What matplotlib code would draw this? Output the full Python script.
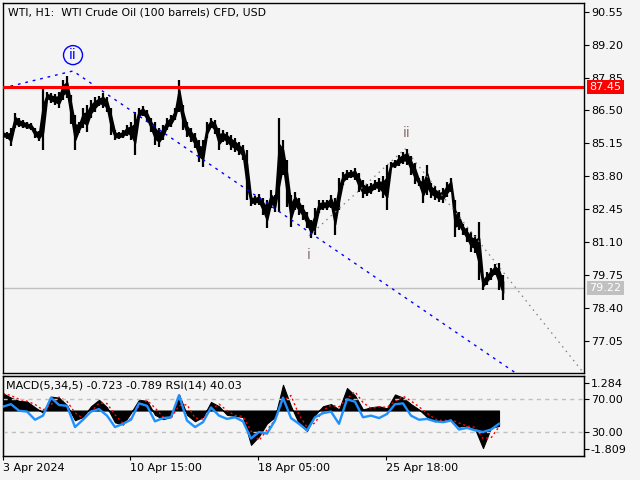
import numpy as np
import matplotlib
matplotlib.use('Agg')
import matplotlib.pyplot as plt
import matplotlib.transforms as mtransforms
import pandas as pd

# ---------------- data ----------------
# price highs / lows, one entry per 4 hourly bars
high = [85.66, 85.62, 85.78, 86.40, 86.19, 86.11, 86.03, 85.99, 85.78, 85.66,
        87.42, 87.26, 87.22, 87.18, 87.26, 87.75, 87.91, 87.14, 86.32, 86.03,
        86.60, 86.73, 86.93, 87.05, 87.09, 87.22, 87.05, 86.60, 85.70, 85.62,
        85.70, 85.91, 86.03, 86.44, 86.60, 86.68, 86.52, 86.19, 86.03, 85.78,
        85.91, 86.19, 86.32, 86.60, 87.75, 86.73, 86.03, 85.78, 85.58, 85.29,
        85.29, 86.03, 86.19, 86.11, 85.78, 85.70, 85.62, 85.50, 85.37, 85.21,
        85.09, 84.88, 83.04, 83.00, 83.08, 82.91, 82.83, 83.24, 83.04, 86.19,
        85.29, 84.47, 83.04, 83.16, 82.91, 82.63, 82.34, 82.01, 82.50, 82.83,
        82.83, 82.83, 83.04, 82.91, 83.73, 83.98, 84.06, 84.06, 84.14, 83.94,
        83.65, 83.49, 83.53, 83.65, 83.73, 83.81, 84.27, 84.39, 84.47, 84.68,
        84.80, 84.92, 84.63, 84.35, 83.73, 83.81, 84.27, 83.53, 83.40, 83.24,
        83.32, 83.57, 83.73, 82.83, 82.34, 81.85, 81.68, 81.52, 81.40, 81.93,
        79.67, 79.88, 80.04, 80.21, 80.25, 79.76]
low = [85.37, 85.33, 85.04, 85.78, 85.82, 85.78, 85.74, 85.70, 85.37, 85.25,
       84.88, 86.93, 86.81, 86.73, 86.60, 86.93, 87.01, 85.95, 84.88, 85.58,
       85.78, 85.62, 86.19, 86.44, 86.68, 86.60, 86.44, 85.50, 85.29, 85.33,
       85.37, 85.46, 85.29, 84.68, 86.19, 86.27, 86.03, 85.62, 85.09, 85.00,
       85.29, 85.70, 85.82, 86.11, 86.44, 85.70, 85.41, 85.21, 84.96, 84.39,
       84.18, 85.37, 85.78, 85.54, 84.88, 85.21, 85.09, 84.88, 84.80, 84.68,
       84.47, 82.83, 82.58, 82.63, 82.63, 82.22, 81.68, 82.50, 82.34, 82.34,
       83.86, 82.54, 81.72, 82.42, 82.22, 82.01, 81.68, 81.27, 81.40, 82.30,
       82.42, 82.42, 82.50, 81.40, 82.42, 83.45, 83.65, 83.73, 83.65, 83.16,
       82.91, 83.00, 83.08, 83.24, 83.16, 82.91, 82.42, 84.14, 84.14, 84.22,
       84.31, 84.27, 83.86, 83.49, 83.40, 82.71, 83.04, 82.91, 82.83, 82.75,
       82.71, 82.95, 83.16, 81.31, 81.60, 81.40, 81.11, 80.70, 80.66, 79.55,
       79.14, 79.35, 79.55, 79.76, 79.14, 78.73]
price_step = 4  # hourly bars per entry

# MACD main (histogram) and RSI(14), one entry per 8 hourly bars
macd = [0.80, 0.60, 0.45, 0.42, 0.15, -0.10, 0.65, 0.60, 0.25, -0.45,
        -0.30, 0.20, 0.50, 0.15, -0.55, -0.65, -0.10, 0.50, 0.45, -0.20,
        -0.40, -0.30, 0.75, -0.20, -0.50, -0.30, 0.40, 0.20, -0.20, -0.25,
        -0.30, -1.60, -1.20, -0.60, -0.30, 1.20, 0.20, -0.60, -0.95, -0.20,
        0.20, 0.30, 0.05, 1.05, 0.70, 0.05, 0.15, 0.20, 0.10, 0.75,
        0.60, 0.30, 0.05, -0.30, -0.50, -0.45, -0.40, -0.75, -0.70, -0.85,
        -1.75, -0.80, -0.72]
rsi = [61, 64, 56, 55, 45, 50, 72, 63, 62, 36,
       45, 55, 58, 50, 36, 40, 45, 65, 62, 43,
       47, 48, 75, 44, 36, 42, 60, 50, 46, 48,
       43, 22, 30, 28, 44, 72, 47, 40, 32, 48,
       53, 55, 40, 70, 67, 48, 50, 47, 52, 64,
       65, 50, 45, 46, 43, 42, 44, 33, 35, 32,
       30, 33, 40.03]
ind_step = 8

red_level = 87.45
last_price = 79.22
price_ticks = [90.55, 89.20, 87.85, 86.50, 85.15, 83.80, 82.45, 81.10, 79.75, 78.40, 77.05]
macd_ticks = [1.284, -1.809]
rsi_levels = [70, 30]
time_ticks = [0, 127, 255, 383]
time_labels = ['3 Apr 2024', '10 Apr 15:00', '18 Apr 05:00', '25 Apr 18:00']

# Elliott wave lines (bar index, price)
wave_major_x = [0, 70, 512]
wave_major_y = [87.42, 88.12, 75.74]
wave_minor_x = [306, 402, 581]
wave_minor_y = [81.35, 84.92, 75.70]

# ---------------- figure ----------------
BG = '#f4f4f4'
W, H = 640, 480
fig = plt.figure(figsize=(6.4, 4.8), dpi=100, facecolor=BG)

def rect(x0, y0, x1, y1):
    return [x0 / W, 1 - y1 / H, (x1 - x0) / W, (y1 - y0) / H]

ax = fig.add_axes(rect(2.5, 2.5, 584, 373))
axm = fig.add_axes(rect(2.5, 376, 584, 456))
for a in (ax, axm):
    a.set_facecolor(BG)
    for s in a.spines.values():
        s.set_color('black')
        s.set_linewidth(1.0)

XL = (-0.5, 581)
pidx = np.arange(len(high)) * price_step
hi = np.array(high)
lo = np.array(low)
mid = (hi + lo) / 2
ax.vlines(pidx, lo, hi, color='black', lw=1.6, zorder=3)
ax.fill_between(pidx, mid - (hi - lo) * 0.22, mid + (hi - lo) * 0.22,
                color='black', lw=1.2, edgecolor='black', zorder=3)
ax.axhline(red_level, color='#ff0000', lw=2.2, zorder=4)
ax.axhline(last_price, color='#c0c0c0', lw=1.0, zorder=2)
ax.plot(wave_major_x, wave_major_y, color='#0000ff', lw=1.0, dashes=(2, 3.5), zorder=3)
ax.plot(wave_minor_x, wave_minor_y, color='#808080', lw=0.9, dashes=(1.2, 3.5), zorder=3)

ax.set_xlim(*XL)
ax.set_ylim(75.72, 90.93)
ax.set_xticks([])
ax.yaxis.tick_right()
ax.set_yticks(price_ticks)
ax.set_yticklabels(['%.2f' % v for v in price_ticks])
ax.tick_params(axis='y', direction='out', length=3.5, width=0.8, pad=1.5, labelsize=8)

# wave labels
ax.text(70, 88.77, 'ii', color='#0000ff', ha='center', va='center', fontsize=10,
        bbox=dict(boxstyle='circle,pad=0.18', fc='none', ec='#0000ff', lw=1.0), zorder=5)
ax.text(403.7, 85.57, 'ii', color='#8c6e6e', ha='center', va='center', fontsize=10, zorder=5)
ax.text(305.7, 80.57, 'i', color='#8c6e6e', ha='center', va='center', fontsize=10, zorder=5)

# price labels on right
tr = mtransforms.blended_transform_factory(ax.transAxes, ax.transData)
ax.text(1.0095, red_level, '%.2f' % red_level, transform=tr, color='white', fontsize=8,
        ha='left', va='center', clip_on=False, zorder=10,
        bbox=dict(fc='#ff0000', ec='none', pad=1.6))
ax.text(1.0095, last_price, '%.2f' % last_price, transform=tr, color='white', fontsize=8,
        ha='left', va='center', clip_on=False, zorder=10,
        bbox=dict(fc='#c0c0c0', ec='none', pad=1.6))

fig.text(8 / W, 1 - 12.5 / H, 'WTI, H1:  WTI Crude Oil (100 barrels) CFD, USD',
         fontsize=7.8, ha='left', va='center', color='black')

# ---------------- indicator window ----------------
sidx = np.arange(len(macd)) * ind_step
signal = pd.Series(macd).rolling(2, min_periods=1).mean().to_numpy()
axm.fill_between(sidx, 0, macd, color='black', lw=0.8, edgecolor='black', zorder=2)
axm.plot(sidx, signal, color='#ff0000', lw=1.0, ls=(0, (1.5, 2)), zorder=3)
axm.set_xlim(*XL)
axm.set_ylim(-2.12, 1.61)

axr = axm.twinx()
for lv in rsi_levels:
    axr.axhline(lv, color='#c0c0c0', lw=1.0, dashes=(3, 3), zorder=1)
axr.plot(sidx, rsi, color='#1e90ff', lw=1.7, zorder=4)
axr.set_ylim(0.6, 98.5)
axr.set_xlim(*XL)

axm.yaxis.tick_right()
axm.set_yticks(macd_ticks)
axm.set_yticklabels(['%.3f' % v for v in macd_ticks])
axr.set_yticks(rsi_levels)
axr.set_yticklabels(['%.2f' % v for v in rsi_levels])
for a in (axm, axr):
    a.tick_params(axis='y', direction='out', length=3.5, width=0.8, pad=1.5, labelsize=8)

axm.set_xticks(time_ticks)
axm.set_xticklabels(time_labels, ha='left')
axm.tick_params(axis='x', direction='out', length=3, width=0.8, pad=2, labelsize=8)

fig.text(6 / W, 1 - 386 / H, 'MACD(5,34,5) -0.723 -0.789 RSI(14) 40.03',
         fontsize=8, ha='left', va='center', color='black')

fig.savefig('out.png', dpi=100, facecolor=BG)
